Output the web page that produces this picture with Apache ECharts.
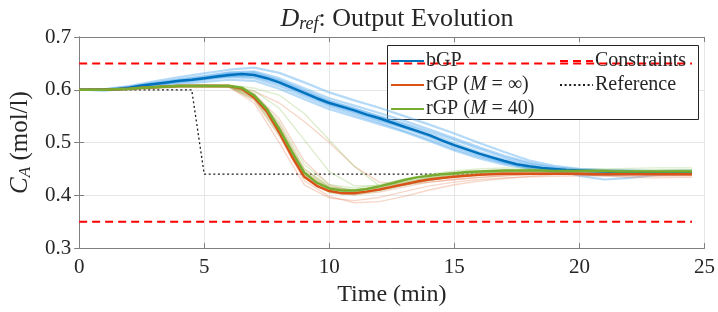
<!DOCTYPE html>
<html>
<head>
<meta charset="utf-8">
<script src="https://cdn.jsdelivr.net/npm/echarts@6/dist/echarts.min.js"></script>
<style>
  html, body { margin: 0; padding: 0; background: #fff; }
  #chart { width: 718px; height: 312px; }
</style>
</head>
<body>
<div id="chart"></div>
<script>
// time grid of the mean curves (min)
var meanTime = [0,0.5,1,1.5,2,2.5,3,3.5,4,4.5,5,5.5,6,6.5,7,7.5,8,8.5,9,9.5,
  10,10.5,11,11.5,12,12.5,13,13.5,14,14.5,15,15.5,16,16.5,17,17.5,18,18.5,19,19.5,
  20,20.5,21,21.5,22,22.5,23,23.5,24,24.5];

var bgpMean = [0.600,0.600,0.600,0.601,0.604,0.608,0.611,0.614,0.617,0.619,
  0.622,0.625,0.628,0.630,0.628,0.622,0.614,0.604,0.594,0.584,
  0.575,0.568,0.561,0.553,0.546,0.538,0.530,0.522,0.514,0.504,
  0.495,0.487,0.479,0.472,0.465,0.459,0.455,0.452,0.450,0.448,
  0.447,0.446,0.445,0.444,0.444,0.443,0.443,0.443,0.442,0.442];

var rgpInfMean = [0.600,0.600,0.600,0.601,0.602,0.604,0.605,0.606,0.607,0.607,
  0.607,0.607,0.607,0.602,0.585,0.559,0.519,0.474,0.435,0.418,
  0.408,0.404,0.404,0.407,0.411,0.416,0.421,0.426,0.430,0.433,
  0.435,0.437,0.439,0.440,0.441,0.441,0.441,0.441,0.441,0.441,
  0.441,0.440,0.440,0.440,0.440,0.440,0.440,0.440,0.440,0.440];

var rgp40Mean = [0.600,0.600,0.600,0.601,0.602,0.604,0.605,0.606,0.607,0.607,
  0.607,0.607,0.607,0.604,0.589,0.564,0.526,0.483,0.443,0.424,
  0.413,0.409,0.409,0.412,0.417,0.423,0.429,0.434,0.437,0.440,
  0.442,0.444,0.445,0.446,0.447,0.447,0.447,0.447,0.446,0.446,
  0.446,0.446,0.446,0.445,0.445,0.445,0.445,0.445,0.445,0.445];

// time grid of the individual sampled trajectories
var sampleTime = [0,1,2,3,4,5,6,7,8,9,10,11,12,13,14,15,16,17,18,19,20,21,22,23,24,24.5];

var bgpSamples = [
  [0.600,0.601,0.607,0.616,0.624,0.631,0.638,0.642,0.632,0.614,0.595,0.580,0.566,0.550,0.534,0.517,0.499,0.482,0.466,0.456,0.450,0.448,0.447,0.446,0.446,0.446],
  [0.600,0.599,0.601,0.606,0.611,0.615,0.619,0.617,0.602,0.582,0.563,0.549,0.535,0.520,0.503,0.485,0.470,0.458,0.450,0.445,0.441,0.440,0.440,0.441,0.440,0.440],
  [0.600,0.600,0.605,0.613,0.620,0.626,0.633,0.635,0.622,0.603,0.584,0.570,0.556,0.541,0.525,0.508,0.491,0.475,0.462,0.453,0.448,0.446,0.445,0.444,0.443,0.443],
  [0.600,0.600,0.603,0.609,0.614,0.619,0.624,0.622,0.607,0.587,0.568,0.553,0.538,0.522,0.506,0.488,0.473,0.461,0.453,0.448,0.446,0.444,0.443,0.441,0.441,0.441],
  [0.600,0.601,0.604,0.610,0.616,0.622,0.630,0.631,0.618,0.599,0.579,0.565,0.549,0.534,0.517,0.499,0.482,0.468,0.457,0.449,0.437,0.430,0.433,0.438,0.440,0.440],
  [0.600,0.599,0.602,0.608,0.616,0.621,0.626,0.625,0.611,0.591,0.572,0.557,0.542,0.527,0.512,0.494,0.478,0.463,0.451,0.444,0.439,0.438,0.440,0.442,0.443,0.443],
  [0.600,0.601,0.606,0.612,0.619,0.625,0.632,0.633,0.618,0.597,0.578,0.564,0.550,0.536,0.521,0.505,0.488,0.472,0.460,0.452,0.449,0.448,0.447,0.446,0.447,0.447],
  [0.600,0.600,0.603,0.610,0.615,0.620,0.626,0.627,0.613,0.592,0.572,0.558,0.543,0.528,0.511,0.492,0.476,0.462,0.452,0.447,0.444,0.443,0.442,0.442,0.441,0.441]
];

var rgpInfSamples = [
  [0.600,0.600,0.603,0.606,0.608,0.608,0.605,0.575,0.500,0.420,0.395,0.390,0.396,0.407,0.418,0.425,0.430,0.433,0.435,0.436,0.437,0.437,0.436,0.436,0.437,0.437],
  [0.600,0.601,0.603,0.606,0.608,0.609,0.608,0.597,0.575,0.540,0.500,0.455,0.425,0.420,0.425,0.430,0.434,0.437,0.439,0.440,0.440,0.439,0.440,0.441,0.441,0.441],
  [0.600,0.600,0.601,0.604,0.606,0.606,0.606,0.588,0.530,0.445,0.412,0.405,0.410,0.420,0.429,0.435,0.439,0.441,0.442,0.443,0.442,0.441,0.441,0.440,0.441,0.441],
  [0.600,0.599,0.600,0.603,0.605,0.605,0.605,0.580,0.512,0.428,0.398,0.386,0.388,0.398,0.410,0.420,0.427,0.432,0.436,0.439,0.440,0.440,0.439,0.438,0.438,0.438],
  [0.600,0.600,0.602,0.605,0.607,0.608,0.607,0.590,0.535,0.450,0.416,0.409,0.414,0.424,0.433,0.438,0.442,0.444,0.445,0.444,0.443,0.443,0.444,0.444,0.443,0.443],
  [0.600,0.600,0.602,0.605,0.606,0.607,0.606,0.583,0.520,0.438,0.407,0.401,0.406,0.416,0.425,0.430,0.434,0.437,0.440,0.441,0.439,0.437,0.434,0.433,0.434,0.434],
  [0.600,0.600,0.603,0.607,0.609,0.609,0.608,0.592,0.545,0.465,0.420,0.407,0.410,0.420,0.430,0.437,0.441,0.443,0.444,0.444,0.444,0.445,0.445,0.445,0.446,0.446]
];

var rgp40Samples = [
  [0.600,0.601,0.603,0.606,0.608,0.609,0.609,0.603,0.590,0.555,0.505,0.455,0.418,0.420,0.428,0.436,0.441,0.444,0.446,0.447,0.447,0.447,0.446,0.447,0.448,0.448],
  [0.600,0.600,0.602,0.605,0.607,0.608,0.608,0.598,0.565,0.505,0.445,0.418,0.418,0.425,0.433,0.439,0.443,0.445,0.446,0.446,0.447,0.447,0.447,0.446,0.446,0.446],
  [0.600,0.600,0.601,0.604,0.606,0.606,0.606,0.587,0.525,0.445,0.415,0.410,0.417,0.428,0.437,0.443,0.446,0.448,0.449,0.448,0.448,0.448,0.447,0.448,0.448,0.448],
  [0.600,0.599,0.600,0.603,0.605,0.605,0.605,0.582,0.515,0.433,0.405,0.401,0.408,0.419,0.429,0.435,0.439,0.442,0.443,0.443,0.442,0.441,0.442,0.443,0.443,0.443],
  [0.600,0.600,0.603,0.607,0.609,0.609,0.608,0.593,0.538,0.458,0.420,0.414,0.420,0.431,0.440,0.446,0.450,0.452,0.451,0.450,0.449,0.450,0.451,0.452,0.452,0.452],
  [0.600,0.601,0.604,0.607,0.608,0.608,0.607,0.590,0.530,0.450,0.416,0.410,0.415,0.425,0.434,0.440,0.444,0.446,0.447,0.447,0.445,0.444,0.444,0.445,0.446,0.446],
  [0.600,0.600,0.602,0.604,0.606,0.606,0.605,0.585,0.520,0.440,0.410,0.406,0.412,0.422,0.432,0.438,0.442,0.445,0.446,0.447,0.447,0.446,0.446,0.445,0.445,0.445]
];

var refTime = [0, 4.5, 5, 24.5];
var refValues = [0.6, 0.6, 0.44, 0.44];

var constraintTime = [0, 24.5];
var upperLimit = [0.65, 0.65];
var lowerLimit = [0.35, 0.35];

var xTicks = [0, 5, 10, 15, 20, 25];
var yTicks = [0.3, 0.4, 0.5, 0.6, 0.7];

var FONT = '"Liberation Serif", "DejaVu Serif", serif';
var INK = '#262626';

function pairs(xs, ys) {
  var out = [];
  for (var i = 0; i < xs.length; i++) out.push([xs[i], ys[i]]);
  return out;
}

function lineSeries(name, xs, ys, color, width, type, opacity) {
  return {
    name: name,
    type: 'line',
    data: pairs(xs, ys),
    symbol: 'none',
    silent: true,
    lineStyle: { color: color, width: width, type: type || 'solid', opacity: opacity == null ? 1 : opacity },
    itemStyle: { color: color }
  };
}

var series = [];
series.push(lineSeries('Constraints', constraintTime, upperLimit, '#ff0000', 2, [8, 5]));
series.push(lineSeries('Constraints', constraintTime, lowerLimit, '#ff0000', 2, [8, 5]));
series.push(lineSeries('Reference', refTime, refValues, '#1a1a1a', 1.3, [2, 2.6]));
bgpSamples.forEach(function (s, i) {
  series.push(lineSeries('bGP sample ' + i, sampleTime, s, '#5aaef0', 2.2, 'solid', 0.45));
});
rgpInfSamples.forEach(function (s, i) {
  series.push(lineSeries('rGP inf sample ' + i, sampleTime, s, '#e07a50', 1.4, 'solid', 0.3));
});
rgp40Samples.forEach(function (s, i) {
  series.push(lineSeries('rGP 40 sample ' + i, sampleTime, s, '#8fc25a', 1.4, 'solid', 0.3));
});
series.push(lineSeries('bGP', meanTime, bgpMean, '#0072BD', 2.5));
series.push(lineSeries('rGP (M = ∞)', meanTime, rgpInfMean, '#D95319', 2.5));
series.push(lineSeries('rGP (M = 40)', meanTime, rgp40Mean, '#77AC30', 2.5));

var legendRich = {
  n: { fontFamily: FONT, fontSize: 20, color: INK },
  it: { fontFamily: FONT, fontSize: 20, color: INK, fontStyle: 'italic' }
};
function legendText(name) {
  if (name.indexOf('M = ') >= 0) {
    var rest = name.split('M')[1];
    return '{n|rGP (}{it|M}{n|' + rest + '}';
  }
  return '{n|' + name + '}';
}

function legendBlock(names, left) {
  return {
    data: names,
    orient: 'vertical', left: left, top: 51, itemGap: 4, z: 10,
    itemWidth: 33, itemHeight: 14, padding: 0,
    itemStyle: { opacity: 0 },
    lineStyle: { width: 2 },
    formatter: legendText,
    textStyle: { lineHeight: 20, padding: [0, 0, 0, -3], rich: legendRich },
    selectedMode: false
  };
}

var chart = echarts.init(document.getElementById('chart'), null, { renderer: 'canvas' });
chart.setOption({
  animation: false,
  backgroundColor: '#fff',
  title: {
    text: '{it|D}{sub|ref}{n|: Output Evolution}',
    left: 392,
    textAlign: 'center',
    top: 0,
    textStyle: {
      fontWeight: 'normal',
      rich: {
        it: { fontFamily: FONT, fontSize: 26, fontStyle: 'italic', fontWeight: 'normal', color: INK },
        sub: { fontFamily: FONT, fontSize: 18, fontStyle: 'italic', fontWeight: 'normal', color: INK, padding: [10, 0, 0, 0] },
        n: { fontFamily: FONT, fontSize: 26, fontWeight: 'normal', color: INK }
      }
    }
  },
  grid: { left: 78, right: 12, top: 37, bottom: 61, show: false },
  xAxis: [{
    type: 'value', min: xTicks[0], max: xTicks[xTicks.length - 1], interval: 5,
    name: 'Time (min)', nameLocation: 'middle', nameGap: 30,
    nameTextStyle: { fontFamily: FONT, fontSize: 24, color: INK },
    axisLine: { show: true, lineStyle: { color: '#808080', width: 1 } },
    axisTick: { show: true, inside: true, length: 5, lineStyle: { color: '#808080' } },
    axisLabel: { fontFamily: FONT, fontSize: 21, color: INK, margin: 9 },
    splitLine: { show: true, lineStyle: { color: '#e6e6e6', width: 1 } }
  }, {
    type: 'value', position: 'top', min: xTicks[0], max: xTicks[xTicks.length - 1], interval: 5,
    axisLine: { show: true, lineStyle: { color: '#808080', width: 1 } },
    axisTick: { show: true, inside: true, length: 5, lineStyle: { color: '#808080' } },
    axisLabel: { show: false }, splitLine: { show: false }
  }],
  yAxis: [{
    type: 'value', min: yTicks[0], max: yTicks[yTicks.length - 1], interval: 0.1,
    name: '{it|C}{sub|A}{n| (mol/l)}', nameLocation: 'middle', nameGap: 40, nameRotate: 90,
    nameTextStyle: {
      rich: {
        it: { fontFamily: FONT, fontSize: 25, fontStyle: 'italic', color: INK },
        sub: { fontFamily: FONT, fontSize: 17, fontStyle: 'italic', color: INK, padding: [10, 0, 0, 0] },
        n: { fontFamily: FONT, fontSize: 25, color: INK }
      }
    },
    axisLine: { show: true, lineStyle: { color: '#808080', width: 1 } },
    axisTick: { show: true, inside: true, length: 5, lineStyle: { color: '#808080' } },
    axisLabel: { fontFamily: FONT, fontSize: 21, color: INK, margin: 8,
      formatter: function (v) { return v.toFixed(1); } },
    splitLine: { show: true, lineStyle: { color: '#e6e6e6', width: 1 } }
  }, {
    type: 'value', position: 'right', min: yTicks[0], max: yTicks[yTicks.length - 1], interval: 0.1,
    axisLine: { show: true, lineStyle: { color: '#808080', width: 1 } },
    axisTick: { show: true, inside: true, length: 5, lineStyle: { color: '#808080' } },
    axisLabel: { show: false }, splitLine: { show: false }
  }],
  legend: [
    legendBlock(['bGP', 'rGP (M = ∞)', 'rGP (M = 40)'], 390),
    legendBlock(['Constraints', 'Reference'], 559)
  ],
  graphic: [{
    type: 'rect', left: 387, top: 45, silent: true, z: 3,
    shape: { width: 311, height: 74 },
    style: { fill: '#ffffff', stroke: '#262626', lineWidth: 1 }
  }],
  series: series
});
</script>
</body>
</html>
